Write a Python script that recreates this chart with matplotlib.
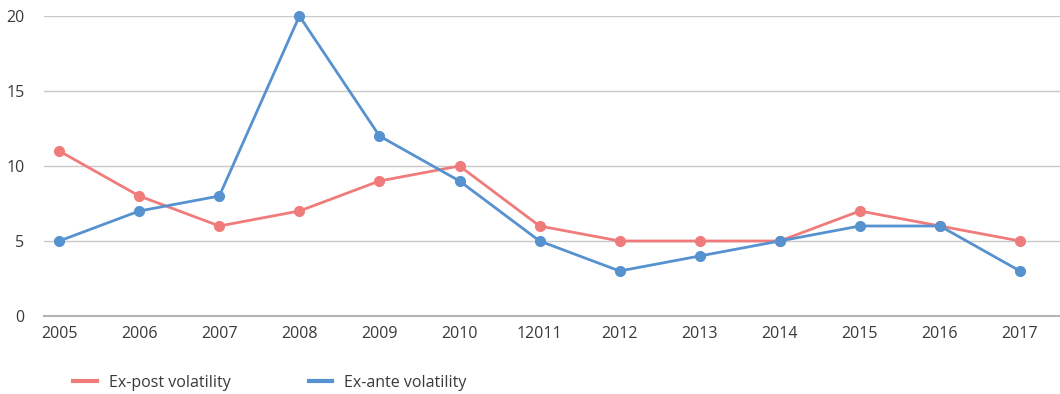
import matplotlib
matplotlib.use("Agg")
import matplotlib.pyplot as plt

years = ["2005", "2006", "2007", "2008", "2009", "2010", "12011",
         "2012", "2013", "2014", "2015", "2016", "2017"]
ex_post = [11, 8, 6, 7, 9, 10, 6, 5, 5, 5, 7, 6, 5]
ex_ante = [5, 7, 8, 20, 12, 9, 5, 3, 4, 5, 6, 6, 3]

red = "#F07B7B"
blue = "#5592CF"

plt.rcParams["font.family"] = ["Open Sans", "DejaVu Sans"]

fig = plt.figure(figsize=(10.6, 3.94), dpi=100)
ax = fig.add_axes([44 / 1060, 78 / 394, 1016 / 1060, 300 / 394])

x = list(range(len(years)))
ax.plot(x, ex_post, color=red, lw=2.0, marker="o", ms=7, label="Ex-post volatility",
        zorder=3, clip_on=False)
ax.plot(x, ex_ante, color=blue, lw=2.0, marker="o", ms=7, label="Ex-ante volatility",
        zorder=4, clip_on=False)

ax.set_xlim(-0.19, 12.5)
ax.set_ylim(0, 20)
ax.set_yticks([0, 5, 10, 15, 20])
ax.set_xticks(x)
ax.set_xticklabels(years)
ax.grid(axis="y", color="#c8c8c8", lw=1.0)
ax.set_axisbelow(True)
for s in ["top", "right", "left"]:
    ax.spines[s].set_visible(False)
ax.spines["bottom"].set_color("#b4b4b4")
ax.spines["bottom"].set_linewidth(1.5)
ax.tick_params(axis="both", length=0, labelsize=11.5, colors="#3a3a3a")
ax.tick_params(axis="y", pad=14)
ax.tick_params(axis="x", pad=7)

leg = fig.legend(loc="center left", bbox_to_anchor=(59 / 1060, 1 - 383 / 394), ncol=2,
                 frameon=False, fontsize=11.5, handlelength=1.45, handletextpad=0.75,
                 columnspacing=4.9, labelcolor="#3a3a3a")
for h in leg.legend_handles:
    h.set_marker("")
    h.set_linewidth(3)

fig.savefig("out.png", dpi=100)
